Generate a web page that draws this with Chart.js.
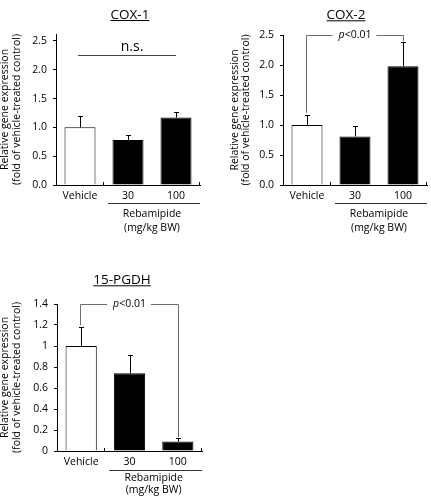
<!DOCTYPE html>
<html><head><meta charset="utf-8">
<script src="https://cdn.jsdelivr.net/npm/chart.js@4"></script>
<style>
html,body{margin:0;padding:0;background:#fff;}
#wrap{position:relative;width:431px;height:498px;overflow:hidden;background:#fff;}
canvas{position:absolute;}
</style></head><body>
<div id="wrap">
<canvas id="c1" width="215" height="245" style="left:0;top:0"></canvas>
<canvas id="c2" width="216" height="245" style="left:215px;top:0"></canvas>
<canvas id="c3" width="215" height="248" style="left:0;top:250px"></canvas>
</div>
<script>
// ---- data ----
const categories = ['Vehicle', '30', '100'];
const cox1Means = [1.00, 0.78, 1.17];
const cox1SD = [0.19, 0.08, 0.10];
const cox2Means = [1.00, 0.81, 1.98];
const cox2SD = [0.17, 0.17, 0.40];
const pgdhMeans = [1.00, 0.74, 0.09];
const pgdhSD = [0.18, 0.17, 0.03];
const coxTickLabels = ['0.0', '0.5', '1.0', '1.5', '2.0', '2.5'];
const pgdhTickLabels = ['0', '0.2', '0.4', '0.6', '0.8', '1', '1.2', '1.4'];
const yTitle = ['Relative gene expression', '(fold of vehicle-treated control)'];
const groupLabel = ['Rebamipide', '(mg/kg BW)'];

const FONT = "'Open Sans', sans-serif";
Chart.defaults.font.family = FONT;
Chart.defaults.font.size = 10.5;
Chart.defaults.color = '#000';

const decor = {
  id: 'decor',
  afterDatasetsDraw(chart, args, o) {
    const ctx = chart.ctx, xs = chart.scales.x, ys = chart.scales.y, ca = chart.chartArea;
    const means = chart.data.datasets[0].data;
    const px = i => xs.getPixelForValue(i);
    const py = v => ys.getPixelForValue(v);
    ctx.save();
    // error bars (upper)
    ctx.strokeStyle = '#000'; ctx.lineWidth = 1;
    means.forEach((m, i) => {
      const x = Math.round(px(i)) + 0.5;
      const y0 = py(m), y1 = Math.round(py(m + o.sd[i])) + 0.5;
      ctx.beginPath();
      ctx.moveTo(x, y0); ctx.lineTo(x, y1);
      ctx.moveTo(x - 2.5, y1); ctx.lineTo(x + 2.5, y1);
      ctx.stroke();
    });
    // inward x ticks
    const b01 = (px(0) + px(1)) / 2;
    ctx.beginPath();
    [b01, ca.right].forEach(bx => {
      const x = Math.round(bx) - 0.5;
      ctx.moveTo(x, ca.bottom); ctx.lineTo(x, ca.bottom - 3);
    });
    ctx.stroke();
    // title with underline
    ctx.fillStyle = '#000';
    ctx.font = `13.5px ${FONT}`;
    ctx.textAlign = 'center'; ctx.textBaseline = 'alphabetic';
    ctx.fillText(o.title, o.titleX, o.titleY);
    const tw = ctx.measureText(o.title).width;
    ctx.beginPath();
    ctx.moveTo(o.titleX - tw / 2, o.titleY + 1.5); ctx.lineTo(o.titleX + tw / 2, o.titleY + 1.5);
    ctx.stroke();
    // group line + label
    const gy = Math.round(ca.bottom + o.groupDy) + 0.5;
    ctx.strokeStyle = '#333';
    ctx.beginPath();
    ctx.moveTo(b01 + 4, gy); ctx.lineTo(ca.right, gy); ctx.stroke();
    ctx.font = `10.5px ${FONT}`;
    ctx.textBaseline = 'middle';
    const gx = (px(1) + px(2)) / 2;
    ctx.fillText(groupLabel[0], gx, ca.bottom + o.textDy[0]);
    ctx.fillText(groupLabel[1], gx, ca.bottom + o.textDy[1]);
    // significance
    if (o.ns) {
      const ly = Math.round(py(o.ns.level)) + 0.5;
      ctx.strokeStyle = '#444';
      ctx.beginPath();
      ctx.moveTo(px(0) - 2, ly); ctx.lineTo(px(2), ly); ctx.stroke();
      ctx.font = `14px ${FONT}`;
      ctx.textBaseline = 'alphabetic';
      ctx.fillText(o.ns.text, (px(0) + px(2)) / 2 + 4, ly - 5);
    }
    if (o.bracket) {
      const b = o.bracket;
      const ly = Math.round(py(b.level)) + 0.5;
      const xl = Math.round(px(b.from)) - 0.5, xr = Math.round(px(b.to)) + 0.5;
      const yl = py(means[b.from] + o.sd[b.from]) - 2;
      const yr = py(means[b.to] + o.sd[b.to]) - 1;
      ctx.font = `italic 10.5px ${FONT}`;
      const wp = ctx.measureText(b.p).width;
      ctx.font = `10.5px ${FONT}`;
      const wr = ctx.measureText(b.rest).width;
      const cx = (px(b.from) + px(b.to)) / 2;
      const tx0 = cx - (wp + wr) / 2;
      ctx.strokeStyle = '#6e6e6e';
      ctx.beginPath();
      ctx.moveTo(xl, yl); ctx.lineTo(xl, ly); ctx.lineTo(tx0 - 6, ly);
      ctx.moveTo(tx0 + wp + wr + 5, ly); ctx.lineTo(xr, ly); ctx.lineTo(xr, yr);
      ctx.stroke();
      ctx.textAlign = 'left'; ctx.textBaseline = 'middle';
      ctx.font = `italic 10.5px ${FONT}`;
      ctx.fillText(b.p, tx0, ly);
      ctx.font = `10.5px ${FONT}`;
      ctx.fillText(b.rest, tx0 + wp, ly);
    }
    ctx.restore();
  }
};

function makeChart(id, means, p) {
  return new Chart(document.getElementById(id), {
    type: 'bar',
    data: {
      labels: categories,
      datasets: [{
        data: means,
        backgroundColor: ['#ffffff', '#000000', '#000000'],
        borderColor: '#000',
        borderWidth: 1,
        borderSkipped: 'start',
        barPercentage: 0.646,
        categoryPercentage: 1
      }]
    },
    options: {
      responsive: false,
      animation: false,
      devicePixelRatio: 1,
      layout: { padding: p.padding },
      plugins: {
        legend: { display: false },
        tooltip: { enabled: false },
        decor: p.decor
      },
      scales: {
        x: {
          offset: true,
          grid: { display: false, drawTicks: false },
          border: { display: true, color: '#000', width: 1 },
          ticks: { color: '#000', padding: 5, maxRotation: 0, autoSkip: false, font: { size: 10.5 } },
          afterFit(s) { s.height = p.xHeight; }
        },
        y: {
          min: 0,
          max: p.yMax,
          ticks: {
            stepSize: p.step,
            includeBounds: false,
            padding: 6,
            color: '#000',
            font: { size: 10.5 },
            callback: (v, i) => p.tickLabels[i]
          },
          grid: { display: true, drawOnChartArea: false, drawTicks: true, tickLength: 3, color: '#000' },
          border: { display: true, color: '#000', width: 1 },
          title: {
            display: true,
            text: yTitle,
            color: '#000',
            font: { size: 10.5, lineHeight: 1.05 },
            padding: { top: p.titlePad, bottom: 0 }
          },
          afterFit(s) { s.width = p.yWidth; }
        }
      }
    },
    plugins: [decor]
  });
}

makeChart('c1', cox1Means, {
  padding: { left: 0, right: 15, top: 34, bottom: 0 },
  xHeight: 60, yWidth: 56, titlePad: 0,
  yMax: 2.62, step: 0.5, tickLabels: coxTickLabels,
  decor: {
    sd: cox1SD, title: 'COX-1', titleX: 130, titleY: 19,
    groupDy: 18, textDy: [29, 43],
    ns: { level: 2.26, text: 'n.s.' }
  }
});

makeChart('c2', cox2Means, {
  padding: { left: 0, right: 4, top: 35, bottom: 0 },
  xHeight: 60, yWidth: 68, titlePad: 14.5,
  yMax: 2.5, step: 0.5, tickLabels: coxTickLabels,
  decor: {
    sd: cox2SD, title: 'COX-2', titleX: 131, titleY: 19.3,
    groupDy: 18, textDy: [29, 43],
    bracket: { from: 0, to: 2, level: 2.5, p: 'p', rest: '<0.01' }
  }
});

makeChart('c3', pgdhMeans, {
  padding: { left: 0, right: 13, top: 54, bottom: 0 },
  xHeight: 47, yWidth: 57, titlePad: 0,
  yMax: 1.4, step: 0.2, tickLabels: pgdhTickLabels,
  decor: {
    sd: pgdhSD, title: '15-PGDH', titleX: 122, titleY: 34.3,
    groupDy: 19, textDy: [27, 39],
    bracket: { from: 0, to: 2, level: 1.4, p: 'p', rest: '<0.01' }
  }
});
</script>
</body></html>
